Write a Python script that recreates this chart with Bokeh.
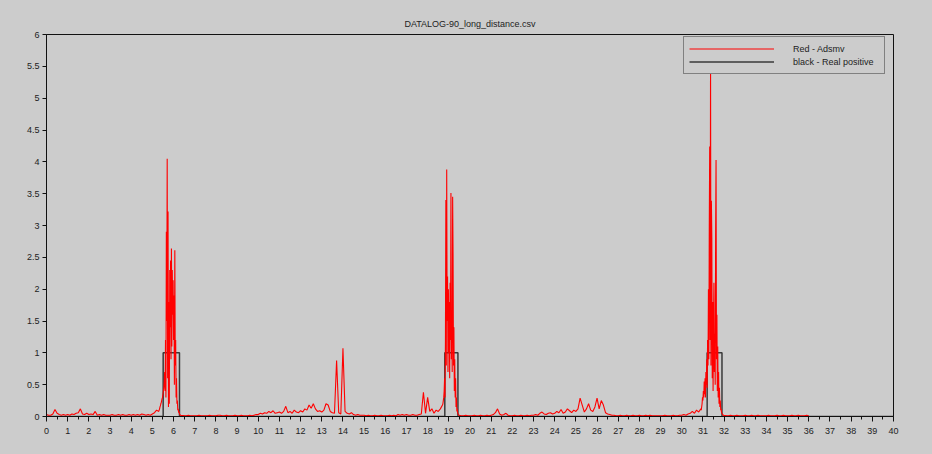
from bokeh.plotting import figure
from bokeh.models import FixedTicker, Range1d, Legend, LegendItem, Title
from bokeh.embed import file_html
from bokeh.resources import INLINE

TITLE = "DATALOG-90_long_distance.csv"
RED_LABEL = "Red - Adsmv"
BLACK_LABEL = "black - Real positive"

# Red signal, sampled in segments: (start, step, values)
seg_a_start, seg_a_step = 0.0, 0.1
seg_a = [0.03, 0.02, 0.02, 0.04, 0.11, 0.05, 0.03, 0.02, 0.03, 0.02,
         0.03, 0.02, 0.04, 0.03, 0.05, 0.06, 0.12, 0.04, 0.03, 0.05,
         0.03, 0.04, 0.03, 0.08, 0.02, 0.03, 0.02, 0.03, 0.02, 0.02,
         0.02, 0.03, 0.02, 0.02, 0.03, 0.02, 0.03, 0.02, 0.02, 0.03,
         0.02, 0.03, 0.02, 0.03, 0.02, 0.04, 0.03, 0.02, 0.03, 0.02,
         0.04, 0.06, 0.10]

seg_b_start, seg_b_step = 5.30, 0.02
seg_b = [0.08, 0.10, 0.12, 0.15, 0.17, 0.20, 0.22, 0.25, 0.28, 0.30,
         0.35, 0.40, 0.45, 0.55, 0.70, 0.40, 1.20, 0.30, 2.90, 1.50,
         4.05, 0.60, 3.22, 0.15, 1.80, 0.20, 2.30, 1.40, 2.45, 0.90,
         2.64, 1.10, 2.30, 1.60, 2.14, 1.20, 1.90, 0.50, 2.61, 0.80,
         1.20, 0.30, 0.60, 0.20, 0.25, 0.10, 0.12, 0.06, 0.08, 0.04,
         0.03, 0.02, 0.02, 0.01, 0.02, 0.01, 0.02, 0.01, 0.01, 0.02,
         0.01]

seg_c_start, seg_c_step = 6.6, 0.1
seg_c = [0.01, 0.02, 0.01, 0.01,
         0.01, 0.01, 0.02, 0.01, 0.01, 0.01, 0.01, 0.02, 0.01, 0.01,
         0.01, 0.02, 0.02, 0.01, 0.01, 0.02, 0.01, 0.01, 0.01, 0.02,
         0.01, 0.01, 0.02, 0.01, 0.01, 0.01, 0.02, 0.01, 0.02, 0.03,
         0.03, 0.05, 0.04, 0.06, 0.05, 0.08, 0.06, 0.09, 0.05, 0.06,
         0.07, 0.05, 0.08, 0.16, 0.06, 0.08, 0.05, 0.10, 0.07, 0.06,
         0.09, 0.07, 0.12, 0.10, 0.18, 0.13, 0.20, 0.12, 0.08, 0.09,
         0.07, 0.10, 0.20, 0.18, 0.08, 0.06, 0.05, 0.88, 0.06, 0.04,
         1.07, 0.08, 0.05, 0.04, 0.06, 0.03, 0.02, 0.03, 0.02, 0.02,
         0.02, 0.01, 0.02, 0.01, 0.01, 0.02, 0.01, 0.01, 0.02, 0.01,
         0.01, 0.01, 0.02, 0.01, 0.02, 0.01, 0.03, 0.02, 0.03, 0.02,
         0.03, 0.02, 0.02, 0.03, 0.02, 0.02, 0.03, 0.04, 0.38, 0.05,
         0.30, 0.08, 0.12, 0.05, 0.10, 0.08, 0.12, 0.18]

seg_d_start, seg_d_step = 18.72, 0.02
seg_d = [0.20, 0.25, 0.30, 0.40, 0.60, 0.30, 1.20, 3.40, 0.80, 3.88,
         1.50, 2.20, 0.70, 2.00, 1.00, 1.80, 0.60, 2.10, 1.20, 3.51,
         0.90, 1.60, 0.70, 3.45, 2.55, 0.80, 1.40, 0.40, 0.90, 0.30,
         0.60, 0.15, 0.30, 0.08, 0.12, 0.05, 0.04, 0.03, 0.02, 0.02,
         0.01, 0.02, 0.01, 0.01, 0.01]

seg_e_start, seg_e_step = 19.7, 0.1
seg_e = [0.01, 0.02, 0.01,
         0.01, 0.01, 0.02, 0.01, 0.01, 0.02, 0.01, 0.01, 0.02, 0.01,
         0.02, 0.03, 0.06, 0.12, 0.04, 0.02, 0.03, 0.05, 0.02, 0.01,
         0.01, 0.02, 0.01, 0.01, 0.02, 0.01, 0.01, 0.02, 0.01, 0.02,
         0.02, 0.03, 0.02, 0.05, 0.07, 0.04, 0.03, 0.05, 0.06, 0.04,
         0.05, 0.08, 0.06, 0.11, 0.05, 0.07, 0.12, 0.09, 0.06, 0.10,
         0.08, 0.12, 0.29, 0.18, 0.07, 0.12, 0.20, 0.10, 0.08, 0.15,
         0.29, 0.12, 0.25, 0.18, 0.06, 0.04, 0.03, 0.02, 0.02, 0.01,
         0.01, 0.02, 0.01, 0.01, 0.02, 0.01, 0.01, 0.02, 0.01, 0.01,
         0.02, 0.01, 0.01, 0.02, 0.01, 0.02, 0.01, 0.01, 0.01, 0.01,
         0.01, 0.01, 0.02, 0.01, 0.01, 0.01, 0.02, 0.01, 0.01, 0.02,
         0.02, 0.03, 0.02, 0.04, 0.05, 0.08, 0.05, 0.10, 0.07, 0.12]

seg_f_start, seg_f_step = 30.92, 0.02
seg_f = [0.10, 0.15, 0.20, 0.30, 0.25, 0.40, 0.30, 0.55, 0.35, 0.60,
         0.30, 0.70, 0.50, 0.90, 0.45, 1.20, 0.80, 2.00, 0.90, 3.00,
         4.24, 1.20, 5.60, 0.80, 3.39, 2.80, 0.60, 1.80, 0.40, 1.50,
         2.10, 0.70, 1.30, 0.50, 2.87, 4.03, 0.90, 1.60, 0.40, 1.10,
         0.30, 0.70, 0.20, 0.45, 0.15, 0.25, 0.10, 0.12, 0.06, 0.05,
         0.04, 0.03, 0.02, 0.02, 0.01, 0.02, 0.01, 0.01, 0.02, 0.01]

seg_g_start, seg_g_step = 32.2, 0.1
seg_g = [0.01, 0.02, 0.01, 0.01, 0.02, 0.01, 0.01, 0.01,
         0.02, 0.01, 0.01, 0.02, 0.01, 0.01, 0.02, 0.01, 0.01, 0.01,
         0.01, 0.02, 0.01, 0.01, 0.01, 0.02, 0.01, 0.01, 0.02, 0.01,
         0.01, 0.01, 0.02, 0.01, 0.01, 0.02, 0.01, 0.01, 0.01, 0.02,
         0.01]

# Real positive (step signal)
black_x = [0.0, 5.51, 5.51, 6.28, 6.28, 18.81, 18.81, 19.43, 19.43, 31.20, 31.20, 31.90, 31.90, 40.0]
black_y = [0, 0, 1, 1, 0, 0, 1, 1, 0, 0, 1, 1, 0, 0]

x_ticks = list(range(0, 41))
x_minor = [k + 0.5 for k in range(40)]
y_ticks = [0, 0.5, 1, 1.5, 2, 2.5, 3, 3.5, 4, 4.5, 5, 5.5, 6]
y_labels = ["0", "0.5", "1", "1.5", "2", "2.5", "3", "3.5", "4", "4.5", "5", "5.5", "6"]

segments = [(seg_a_start, seg_a_step, seg_a), (seg_b_start, seg_b_step, seg_b),
            (seg_c_start, seg_c_step, seg_c), (seg_d_start, seg_d_step, seg_d),
            (seg_e_start, seg_e_step, seg_e), (seg_f_start, seg_f_step, seg_f),
            (seg_g_start, seg_g_step, seg_g)]
red_x, red_y = [], []
for s0, st, vals in segments:
    red_x += [round(s0 + i * st, 3) for i in range(len(vals))]
    red_y += vals

BG = "#cccccc"
FONT = "Liberation Sans"

p = figure(width=932, height=454, output_backend="svg", toolbar_location=None,
           x_range=Range1d(0, 40), y_range=Range1d(0, 6),
           min_border_left=46, min_border_right=39, min_border_top=34, min_border_bottom=38)
p.background_fill_color = BG
p.border_fill_color = BG
p.outline_line_color = "#111111"
p.outline_line_width = 1
p.xgrid.visible = False
p.ygrid.visible = False

t = Title(text=TITLE, align="center", text_font_size="9px", text_font=FONT,
          text_font_style="normal", text_color="#222222", standoff=12)
p.add_layout(t, "above")

p.xaxis.ticker = FixedTicker(ticks=x_ticks, minor_ticks=x_minor)
p.yaxis.ticker = FixedTicker(ticks=y_ticks, minor_ticks=[])
overrides = {}
for v, l in zip(y_ticks, y_labels):
    overrides[float(v)] = l
    if float(v).is_integer():
        overrides[int(v)] = l
p.yaxis.major_label_overrides = overrides
for ax in (p.xaxis[0], p.yaxis[0]):
    ax.axis_line_color = "#111111"
    ax.major_tick_line_color = "#111111"
    ax.minor_tick_line_color = "#111111"
    ax.major_tick_in = 0
    ax.minor_tick_in = 0
    ax.major_label_text_font = FONT
    ax.major_label_text_font_size = "9px"
    ax.major_label_text_color = "#222222"
p.xaxis.major_tick_out = 5
p.xaxis.minor_tick_out = 3
p.xaxis.major_label_standoff = 6
p.yaxis.major_tick_out = 4
p.yaxis.major_label_standoff = 3

r_black = p.line(black_x, black_y, line_color="#3a3a3a", line_width=1.5)
r_red = p.line(red_x, red_y, line_color="#ff0000", line_width=1.1)

legend = Legend(items=[LegendItem(label=RED_LABEL, renderers=[r_red]),
                       LegendItem(label=BLACK_LABEL, renderers=[r_black])],
                location=(637, 342))
legend.background_fill_color = BG
legend.background_fill_alpha = 1
legend.border_line_color = "#333333"
legend.border_line_width = 1
legend.glyph_width = 85
legend.glyph_height = 13
legend.label_height = 13
legend.label_width = 86
legend.label_standoff = 19
legend.spacing = 0
legend.padding = 5
legend.margin = 0
legend.label_text_font = FONT
legend.label_text_font_size = "9px"
legend.label_text_color = "#222222"
p.add_layout(legend, "center")

html = file_html(p, INLINE)
html = html.replace("<head>", "<head><style>body{background:#cccccc;}</style>", 1)
open("out.html", "w").write(html)
